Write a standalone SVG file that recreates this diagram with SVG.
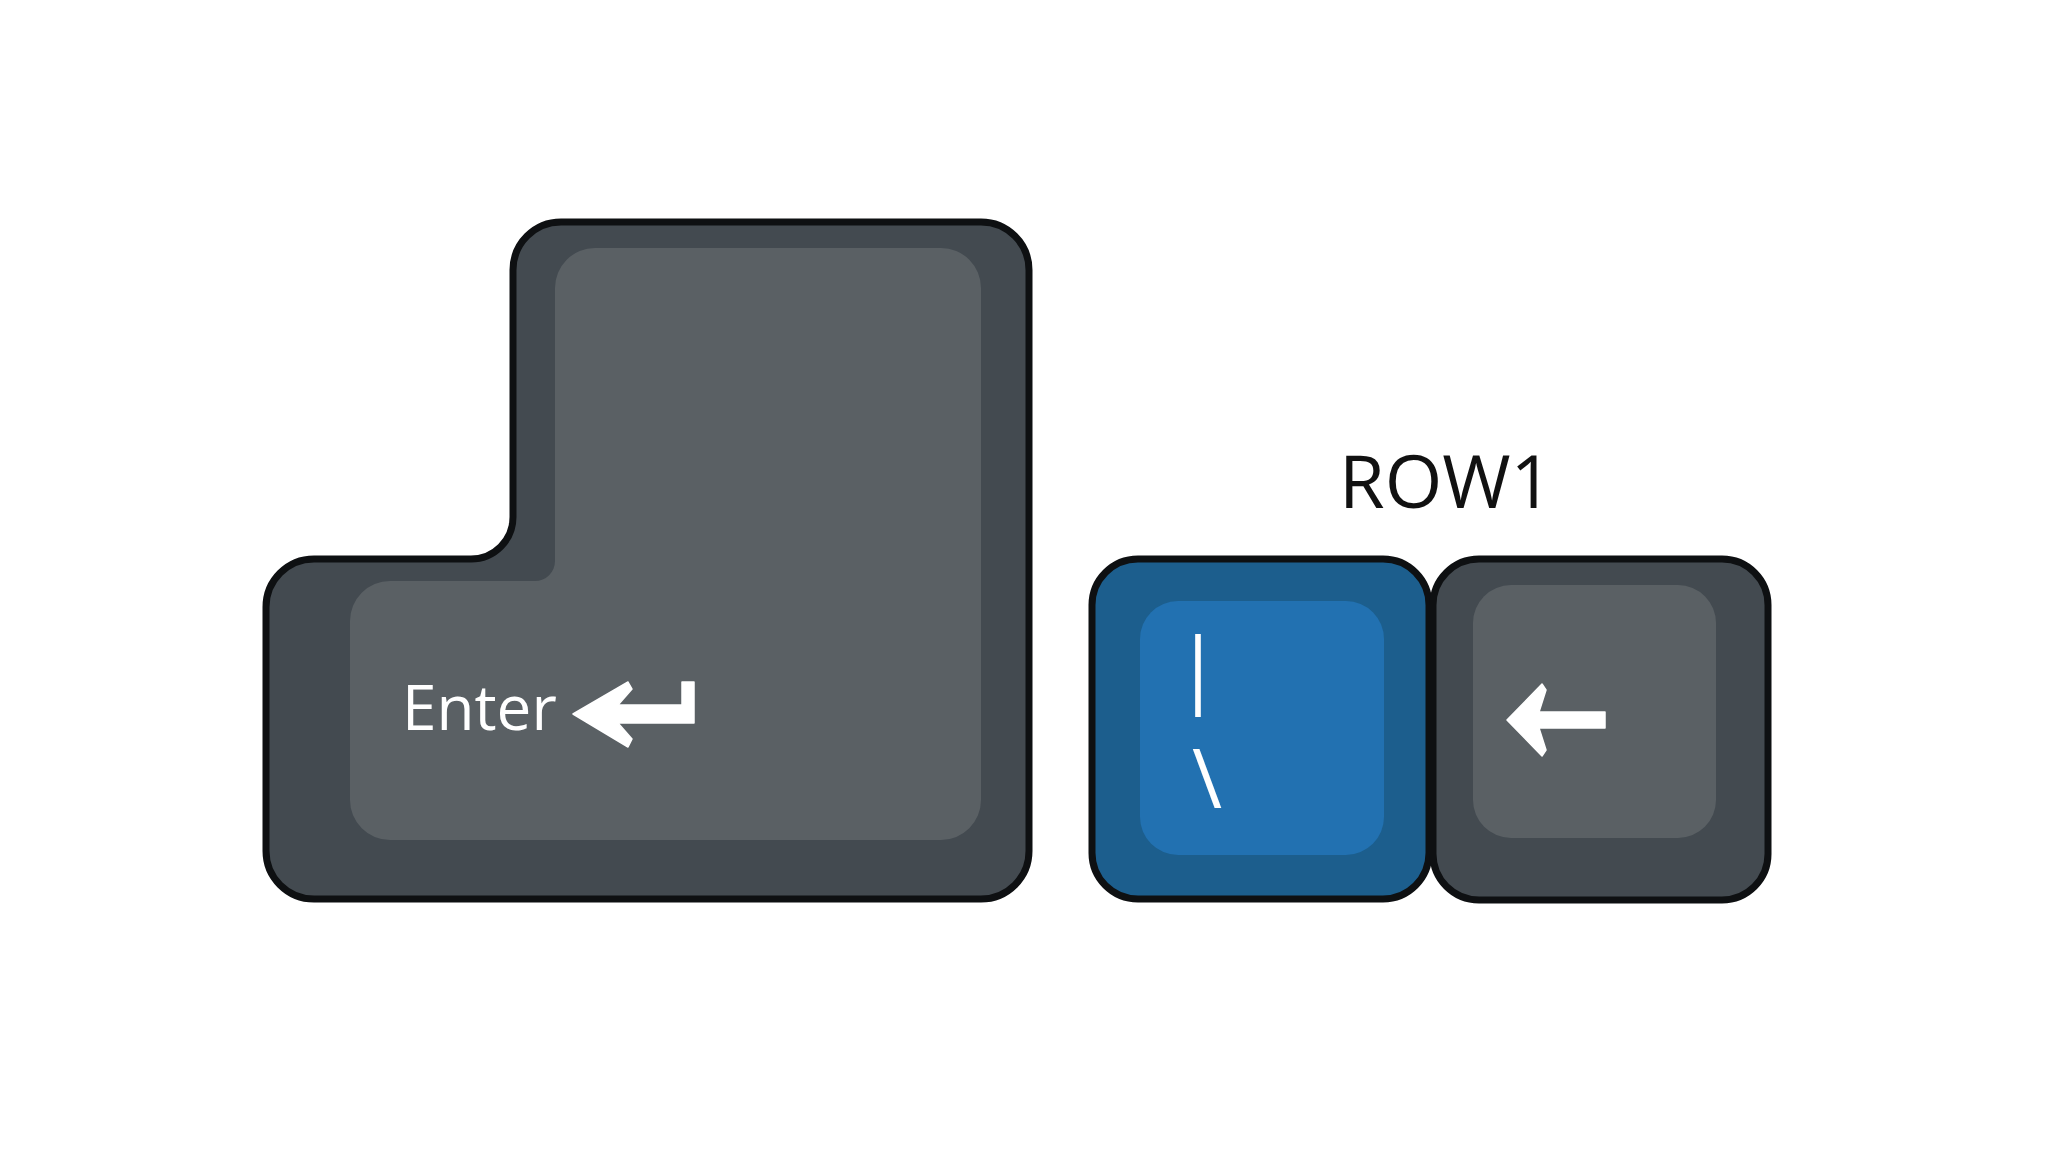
<svg xmlns="http://www.w3.org/2000/svg" width="2048" height="1166" viewBox="0 0 2048 1166">
<style>
.outline{stroke:#0e1012;stroke-width:7;stroke-linejoin:round}
.side-gray{fill:#434a50}
.face-gray{fill:#5a6064}
.side-blue{fill:#1c5e8d}
.face-blue{fill:#2271b1}
.legend{fill:#ffffff;font-family:"Open Sans","Liberation Sans",sans-serif}
.title{fill:#111111;font-family:"Open Sans","Liberation Sans",sans-serif}
.icon{fill:#ffffff;stroke:#ffffff;stroke-width:1.5;stroke-linejoin:round}
</style>
<rect width="2048" height="1166" fill="#ffffff"/>
<g id="enter-key">
<path class="outline side-gray" d="M 561,222 H 981 A48 48 0 0 1 1029,270 V 851 A48 48 0 0 1 981,899 H 314 A48 48 0 0 1 266,851 V 607 A48 48 0 0 1 314,559 H 471 A42 42 0 0 0 513,517 V 270 A48 48 0 0 1 561,222 Z"/>
<path class="face-gray" d="M 595,248 H 941 A40 40 0 0 1 981,288 V 800 A40 40 0 0 1 941,840 H 390 A40 40 0 0 1 350,800 V 621 A40 40 0 0 1 390,581 H 535 A20 20 0 0 0 555,561 V 288 A40 40 0 0 1 595,248 Z"/>
<text class="legend" x="402" y="730" font-size="62">Enter</text>
<path class="icon" d="M 573,714 L 628,682 L 632,689 L 618,705 L 682,705 L 682,682 L 694,682 L 694,723 L 618,723 L 632,739 L 628,747 Z"/>
</g>
<g id="row1-label">
<text class="title" x="1446" y="508" font-size="74" text-anchor="middle">ROW1</text>
</g>
<g id="backslash-key">
<rect class="outline side-blue" x="1092" y="559" width="337" height="340" rx="46"/>
<rect class="face-blue" x="1140" y="601" width="244" height="254" rx="38"/>
<text class="legend" x="1198" y="697" font-size="82" text-anchor="middle">|</text>
<text class="legend" x="1207" y="808" font-size="82" text-anchor="middle">\</text>
</g>
<g id="backspace-key">
<rect class="outline side-gray" x="1433" y="559" width="335" height="341" rx="46"/>
<rect class="face-gray" x="1473" y="585" width="243" height="253" rx="38"/>
<path class="icon" d="M 1507,720 L 1542,684 L 1546,690 L 1539,712 L 1605,712 L 1605,728 L 1539,728 L 1546,750 L 1542,756 Z"/>
</g>
<g id="connectors"></g>
</svg>
